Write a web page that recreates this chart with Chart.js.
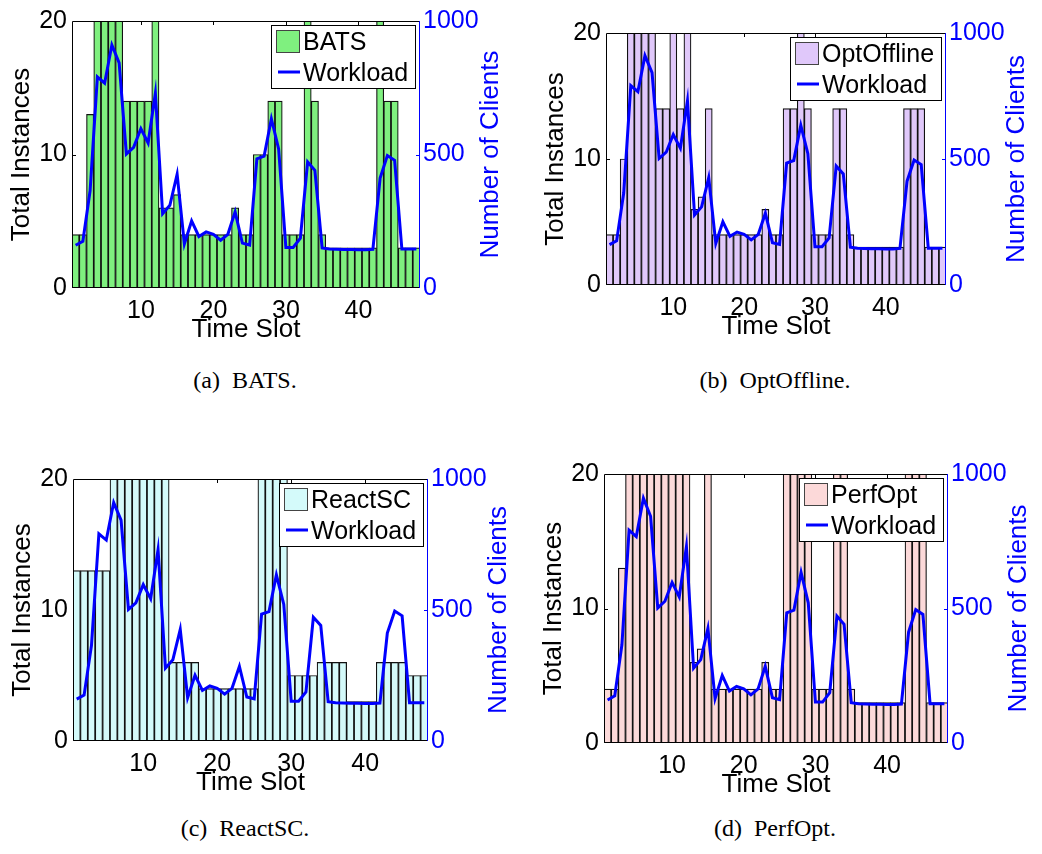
<!DOCTYPE html>
<html>
<head>
<meta charset="utf-8">
<script src="https://cdn.jsdelivr.net/npm/chart.js@4/dist/chart.umd.min.js"></script>
<style>
    body {
        margin: 0;
        width: 1042px;
        height: 854px;
        overflow: hidden;
        position: relative;
        background: #fff;
    }
    canvas {
        position: absolute;
    }
    .caption {
        position: absolute;
        width: 300px;
        margin-left: -150px;
        text-align: center;
        font-family: "Liberation Serif", "Times New Roman", serif;
        font-size: 24px;
        line-height: 24px;
        color: #000;
        white-space: pre;
    }
</style>
</head>
<body>
<canvas id="chart-bats"></canvas>
<canvas id="chart-optoffline"></canvas>
<canvas id="chart-reactsc"></canvas>
<canvas id="chart-perfopt"></canvas>
<div class="caption" style="left:245px; top:368px;">(a)  BATS.</div>
<div class="caption" style="left:775px; top:368px;">(b)  OptOffline.</div>
<div class="caption" style="left:245px; top:816px;">(c)  ReactSC.</div>
<div class="caption" style="left:775px; top:816px;">(d)  PerfOpt.</div>
<script>
const FONT = '"Liberation Sans", Arial, Helvetica, sans-serif';
const BLUE = "#0000ff";

const timeSlots = [
    1, 2, 3, 4, 5, 6, 7, 8, 9, 10, 11, 12, 13, 14, 15, 16,
    17, 18, 19, 20, 21, 22, 23, 24, 25, 26, 27, 28, 29, 30, 31, 32,
    33, 34, 35, 36, 37, 38, 39, 40, 41, 42, 43, 44, 45, 46, 47, 48,
];

// number of clients per slot (right axis)
const workload = [
    160, 175, 365, 791, 767, 910, 843, 502, 527, 597, 543, 730, 278, 310, 426, 165,
    251, 193, 210, 201, 179, 201, 285, 168, 161, 484, 494, 634, 521, 152, 152, 187,
    472, 441, 150, 146, 145, 144, 144, 143, 143, 145, 412, 496, 478, 146, 146, 146,
];

// instances per slot (left axis); 24 runs past the top of the axis
const batsInstances = [
    4, 4, 13, 24, 24, 24, 24, 14, 14, 14, 14, 24, 6, 6, 7, 4,
    4, 4, 4, 4, 4, 4, 6, 4, 4, 10, 10, 14, 14, 4, 4, 4,
    24, 14, 4, 3, 3, 3, 3, 3, 3, 3, 24, 14, 14, 3, 3, 3,
];
const optOfflineInstances = [
    4, 4, 10, 24, 24, 24, 24, 14, 14, 24, 14, 24, 6, 7, 14, 4,
    4, 4, 4, 4, 4, 4, 6, 4, 4, 14, 14, 24, 14, 4, 4, 4,
    14, 14, 4, 3, 3, 3, 3, 3, 3, 3, 14, 14, 14, 3, 3, 3,
];
const reactScInstances = [
    13, 13, 13, 13, 13, 24, 24, 24, 24, 24, 24, 24, 24, 6, 6, 6,
    6, 4, 4, 4, 4, 4, 4, 4, 4, 24, 24, 24, 24, 5, 5, 5,
    5, 6, 6, 6, 6, 3, 3, 3, 3, 6, 6, 6, 6, 5, 5, 5,
];
const perfOptInstances = [
    4, 4, 13, 24, 24, 24, 24, 24, 24, 24, 24, 24, 6, 7, 24, 4,
    4, 4, 4, 4, 4, 4, 6, 4, 4, 24, 24, 24, 24, 4, 4, 4,
    24, 24, 4, 3, 3, 3, 3, 3, 3, 3, 24, 24, 24, 3, 3, 3,
];

const instanceTicks = [0, 10, 20];
const clientTicks = [0, 500, 1000];
const slotTicks = [10, 20, 30, 40];

// space around each plot box inside its canvas
const ML = 70, MR = 100, MT = 16, MB = 62;

const panels = [
    { id: "chart-bats", name: "BATS", values: batsInstances, color: "#7ff07f",
      box: { left: 72, top: 17, right: 420, bottom: 288 } },
    { id: "chart-optoffline", name: "OptOffline", values: optOfflineInstances, color: "#e0c8fa",
      box: { left: 606, top: 29, right: 946, bottom: 285 } },
    { id: "chart-reactsc", name: "ReactSC", values: reactScInstances, color: "#d4fafa",
      box: { left: 73, top: 475, right: 428, bottom: 741 } },
    { id: "chart-perfopt", name: "PerfOpt", values: perfOptInstances, color: "#fcd9d9",
      box: { left: 604, top: 470, right: 948, bottom: 743 } },
];

// MATLAB-style box, inward ticks, axis titles and legend
const panelDecor = {
    id: "panelDecor",
    beforeDatasetsDraw(chart) {
        const { ctx, chartArea: a, scales } = chart;
        ctx.save();
        ctx.lineWidth = 1;
        ctx.strokeStyle = "#000";
        ctx.beginPath();
        slotTicks.forEach((v) => {
            const x = Math.round(scales.x.getPixelForValue(v)) + 0.5;
            ctx.moveTo(x, a.top);
            ctx.lineTo(x, a.top + 4);
            ctx.moveTo(x, a.bottom);
            ctx.lineTo(x, a.bottom - 4);
        });
        instanceTicks.slice(1, -1).forEach((v) => {
            const y = Math.round(scales.y.getPixelForValue(v)) + 0.5;
            ctx.moveTo(a.left, y);
            ctx.lineTo(a.left + 4, y);
        });
        ctx.stroke();
        ctx.strokeStyle = BLUE;
        ctx.beginPath();
        clientTicks.slice(1, -1).forEach((v) => {
            const y = Math.round(scales.y1.getPixelForValue(v)) + 0.5;
            ctx.moveTo(a.right, y);
            ctx.lineTo(a.right - 4, y);
        });
        ctx.stroke();
        ctx.restore();
    },
    afterDatasetsDraw(chart, args, opts) {
        const { ctx, chartArea: a } = chart;
        ctx.save();

        // plot frame, right side in the workload colour
        ctx.lineWidth = 1;
        ctx.strokeStyle = "#000";
        ctx.beginPath();
        ctx.moveTo(a.right, a.top + 0.5);
        ctx.lineTo(a.left + 0.5, a.top + 0.5);
        ctx.lineTo(a.left + 0.5, a.bottom - 0.5);
        ctx.lineTo(a.right, a.bottom - 0.5);
        ctx.stroke();
        ctx.strokeStyle = BLUE;
        ctx.beginPath();
        ctx.moveTo(a.right - 0.5, a.top);
        ctx.lineTo(a.right - 0.5, a.bottom);
        ctx.stroke();

        // legend
        ctx.font = `25px ${FONT}`;
        const textW = Math.max(ctx.measureText(opts.label).width, ctx.measureText("Workload").width);
        const w = Math.round(textW + 40);
        const h = 64;
        const x0 = Math.round(a.right - 4 - w);
        const y0 = Math.round(a.top + 4);
        ctx.fillStyle = "#fff";
        ctx.fillRect(x0, y0, w, h);
        ctx.strokeStyle = "#000";
        ctx.strokeRect(x0 + 0.5, y0 + 0.5, w - 1, h - 1);
        ctx.fillStyle = opts.color;
        ctx.fillRect(x0 + 5, y0 + 5, 24, 23);
        ctx.strokeStyle = "#444";
        ctx.strokeRect(x0 + 5.5, y0 + 5.5, 23, 22);
        ctx.strokeStyle = BLUE;
        ctx.lineWidth = 3;
        ctx.beginPath();
        ctx.moveTo(x0 + 7, y0 + 47);
        ctx.lineTo(x0 + 29, y0 + 47);
        ctx.stroke();
        ctx.fillStyle = "#000";
        ctx.textAlign = "left";
        ctx.textBaseline = "alphabetic";
        ctx.fillText(opts.label, x0 + 32, y0 + 25);
        ctx.fillText("Workload", x0 + 32, y0 + 56);

        // axis titles
        const midY = (a.top + a.bottom) / 2;
        ctx.font = `26px ${FONT}`;
        ctx.textAlign = "center";
        ctx.textBaseline = "middle";
        ctx.fillText("Time Slot", (a.left + a.right) / 2, a.bottom + 42);
        ctx.translate(a.left - 50, midY);
        ctx.rotate(-Math.PI / 2);
        ctx.fillText("Total Instances", 0, 0);
        ctx.setTransform(1, 0, 0, 1, 0, 0);
        ctx.translate(a.right + 71, midY);
        ctx.rotate(-Math.PI / 2);
        ctx.fillStyle = BLUE;
        ctx.fillText("Number of Clients", 0, 0);
        ctx.restore();
    },
};

function tickFont() {
    return { family: FONT, size: 25 };
}

function plainTick(value) {
    return String(value);
}

function renderPanel(panel) {
    const canvas = document.getElementById(panel.id);
    const b = panel.box;
    canvas.width = b.right - b.left + ML + MR;
    canvas.height = b.bottom - b.top + MT + MB;
    canvas.style.left = `${b.left - ML}px`;
    canvas.style.top = `${b.top - MT}px`;

    new Chart(canvas, {
        type: "bar",
        data: {
            datasets: [
                {
                    type: "line",
                    label: "Workload",
                    data: timeSlots.map((s, i) => ({ x: s, y: workload[i] })),
                    yAxisID: "y1",
                    borderColor: BLUE,
                    borderWidth: 3,
                    pointRadius: 0,
                    tension: 0,
                    order: 0,
                },
                {
                    type: "bar",
                    label: panel.name,
                    data: timeSlots.map((s, i) => ({ x: s, y: panel.values[i] })),
                    yAxisID: "y",
                    backgroundColor: panel.color,
                    borderColor: "#111",
                    borderWidth: 1.2,
                    barPercentage: 1,
                    categoryPercentage: 1,
                    clip: 0,
                    order: 1,
                },
            ],
        },
        options: {
            responsive: false,
            animation: false,
            devicePixelRatio: 1,
            layout: { padding: { top: MT, left: 0, right: 0, bottom: 0 } },
            plugins: {
                legend: { display: false },
                tooltip: { enabled: false },
                panelDecor: { label: panel.name, color: panel.color },
            },
            scales: {
                x: {
                    type: "linear",
                    min: 0.5,
                    max: 48.5,
                    offset: false,
                    grid: { display: false, drawTicks: false },
                    border: { display: false },
                    ticks: { autoSkip: false, maxRotation: 0, font: tickFont(), color: "#000", padding: 8, callback: plainTick },
                    afterBuildTicks: (s) => { s.ticks = slotTicks.map((v) => ({ value: v })); },
                    afterFit: (s) => { s.height = MB; },
                },
                y: {
                    position: "left",
                    min: 0,
                    max: 20,
                    grid: { display: false, drawTicks: false },
                    border: { display: false },
                    ticks: { font: tickFont(), color: "#000", padding: 5, callback: plainTick },
                    afterBuildTicks: (s) => { s.ticks = instanceTicks.map((v) => ({ value: v })); },
                    afterFit: (s) => { s.width = ML; },
                },
                y1: {
                    position: "right",
                    min: 0,
                    max: 1000,
                    grid: { display: false, drawTicks: false },
                    border: { display: false },
                    ticks: { font: tickFont(), color: BLUE, padding: 3, callback: plainTick },
                    afterBuildTicks: (s) => { s.ticks = clientTicks.map((v) => ({ value: v })); },
                    afterFit: (s) => { s.width = MR; },
                },
            },
        },
        plugins: [panelDecor],
    });
}

panels.forEach(renderPanel);
</script>
</body>
</html>
